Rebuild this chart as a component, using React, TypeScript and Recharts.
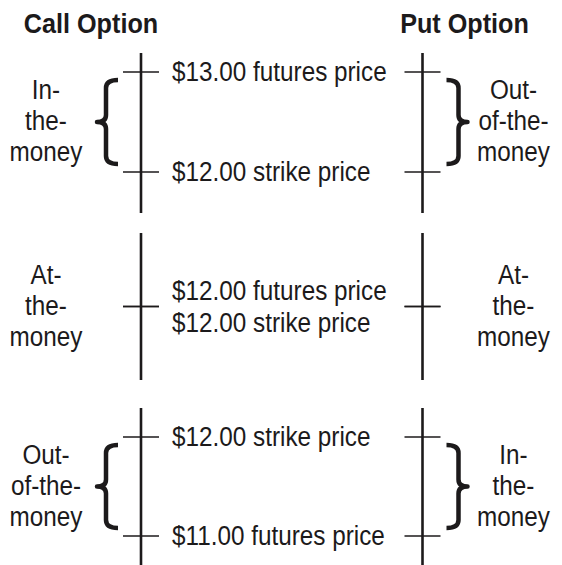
import { ComposedChart, XAxis, YAxis, Scatter, ReferenceLine, ReferenceArea } from 'recharts';

const sides = ['call', 'put'];
const sideTitles = ['Call Option', 'Put Option'];
const futuresPrices = [13, 12, 11];
const strikePrices = [12, 12, 12];
const inWords = ['In-', 'the-', 'money'];
const outWords = ['Out-', 'of-the-', 'money'];
const atWords = ['At-', 'the-', 'money'];

const FONT = '"Liberation Sans", Arial, sans-serif';
const INK = '#1c1a1b';
const SQUEEZE = 0.9; // the original uses a condensed face

// where each panel sits on the page and where its vertical lines start/end
const LAYOUT = [
  { top: 0, height: 222, lineTop: 53, lineBottom: 213, padTop: 19, padBottom: 41 },
  { top: 222, height: 172, lineTop: 233, lineBottom: 380, padTop: 0, padBottom: 0 },
  { top: 394, height: 171, lineTop: 408, lineBottom: 565, padTop: 29, padBottom: 29 },
];

const moneyness = (side: string, futures: number, strike: number) => {
  if (futures === strike) return atWords;
  const callIn = futures > strike;
  return (side === 'call') === callIn ? inWords : outWords;
};

const CondText = ({ x, y, children, anchor = 'start', size = 27, bold = false, central = false }: any) => (
  <text
    transform={`translate(${x},${y}) scale(${SQUEEZE},1)`}
    textAnchor={anchor}
    dominantBaseline={central ? 'central' : undefined}
    fontFamily={FONT}
    fontSize={size}
    fontWeight={bold ? 'bold' : 'normal'}
    fill={INK}
  >
    {children}
  </text>
);

const PriceTick = (props: any) => {
  const { cx, cy, payload } = props;
  return (
    <g>
      <line x1={cx - 18} x2={cx + 18} y1={cy} y2={cy} stroke={INK} strokeWidth={1.6} />
      {payload.side === 'call' && (
        <CondText x={cx + 31} y={cy + payload.offset} central>
          {payload.label}
        </CondText>
      )}
    </g>
  );
};

const MoneyMark = (props: any) => {
  const { x, y, width, height, side, words } = props;
  const center = x + width / 2;
  const mid = y + height / 2;
  const isCall = side === 'call';
  const textX = isCall ? center - 95 : center + 91;
  let brace = null;
  if (height > 0) {
    const tip = isCall ? center - 44 : center + 45;
    const arm = isCall ? center - 23 : center + 24;
    const spine = isCall ? tip + 9 : tip - 9;
    const y0 = y + 8;
    const y1 = y + height - 8;
    const d = `M${arm},${y0} Q${spine},${y0} ${spine},${y0 + 8} L${spine},${mid - 7} Q${spine},${mid} ${tip},${mid} Q${spine},${mid} ${spine},${mid + 7} L${spine},${y1 - 8} Q${spine},${y1} ${arm},${y1}`;
    brace = <path d={d} fill="none" stroke={INK} strokeWidth={4.5} strokeLinejoin="round" />;
  }
  return (
    <g>
      {brace}
      {words.map((w: string, i: number) => (
        <CondText key={w + i} x={textX} y={mid + 8 + (i - 1) * 31} anchor="middle">
          {w}
        </CondText>
      ))}
    </g>
  );
};

const Panel = ({ index }: { index: number }) => {
  const lay = LAYOUT[index];
  const futures = futuresPrices[index];
  const strike = strikePrices[index];
  const lo = Math.min(futures, strike);
  const hi = Math.max(futures, strike);
  const domain = lo === hi ? [lo - 1, hi + 1] : [lo, hi];
  const same = futures === strike;

  const points = sides.flatMap((side) => [
    { side, price: futures, label: `$${futures.toFixed(2)} futures price`, offset: same ? -16 : 0 },
    { side, price: strike, label: `$${strike.toFixed(2)} strike price`, offset: same ? 16 : 0 },
  ]);

  return (
    <div style={{ position: 'absolute', left: 0, top: lay.top }}>
      <ComposedChart
        width={562}
        height={lay.height}
        margin={{ top: lay.lineTop - lay.top, bottom: lay.top + lay.height - lay.lineBottom, left: 0, right: 0 }}
      >
        <XAxis
          type="category"
          dataKey="side"
          scale="point"
          allowDuplicatedCategory={false}
          padding={{ left: 141, right: 139.5 }}
          hide
        />
        <YAxis type="number" dataKey="price" domain={domain} padding={{ top: lay.padTop, bottom: lay.padBottom }} hide />
        {sides.map((side) => (
          <ReferenceLine key={side} x={side} stroke={INK} strokeWidth={2.6} />
        ))}
        {sides.map((side) => (
          <ReferenceArea
            key={'area-' + side}
            x1={side}
            x2={side}
            y1={lo}
            y2={hi}
            shape={(p: any) => <MoneyMark {...p} side={side} words={moneyness(side, futures, strike)} />}
          />
        ))}
        <Scatter data={points} isAnimationActive={false} shape={<PriceTick />} />
        {index === 0 && (
          <>
            <CondText x={91} y={33} anchor="middle" size={28} bold>
              {sideTitles[0]}
            </CondText>
            <CondText x={464.5} y={33} anchor="middle" size={28} bold>
              {sideTitles[1]}
            </CondText>
          </>
        )}
      </ComposedChart>
    </div>
  );
};

export default function App() {
  return (
    <div style={{ position: 'absolute', left: 0, top: 0, width: 562, height: 565, background: '#fff' }}>
      {LAYOUT.map((_, i) => (
        <Panel key={i} index={i} />
      ))}
    </div>
  );
}
